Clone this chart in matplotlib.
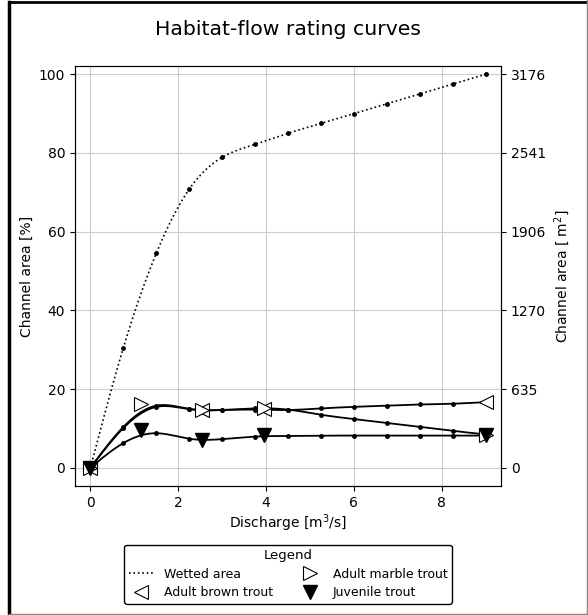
import numpy as np
import matplotlib
matplotlib.use("Agg")
import matplotlib.pyplot as plt
from matplotlib.lines import Line2D

# discharge steps [m3/s]
discharge = [0, 0.75, 1.5, 2.25, 3.0, 3.75, 4.5, 5.25, 6.0, 6.75, 7.5, 8.25, 9.0]

# channel area in % of the total wetted area
wetted = [0, 30.5, 54.5, 70.8, 78.9, 82.2, 85.0, 87.5, 90.0, 92.5, 95.0, 97.5, 100.0]
brown = [0, 10.1, 15.5, 14.9, 14.7, 14.8, 14.7, 15.1, 15.5, 15.8, 16.1, 16.3, 16.7]
marble = [0, 10.4, 15.8, 15.0, 14.7, 15.1, 14.8, 13.5, 12.4, 11.4, 10.4, 9.4, 8.5]
juvenile = [0, 6.3, 8.8, 7.4, 7.3, 7.95, 8.1, 8.2, 8.2, 8.2, 8.2, 8.2, 8.2]

# observed habitat points
brown_obs_q = [0, 2.55, 3.95, 9.0]
brown_obs = [0, 14.7, 15.0, 16.7]
marble_obs_q = [0, 1.15, 2.55, 3.95, 9.0]
marble_obs = [0, 16.2, 14.7, 15.2, 8.4]
juv_obs_q = [0, 1.15, 2.55, 3.95, 9.0]
juv_obs = [0, 9.6, 7.1, 8.4, 8.3]

total_area = 3176.0  # m2


def natural_spline(x, y, xs):
    x = np.asarray(x, float)
    y = np.asarray(y, float)
    n = len(x)
    h = np.diff(x)
    A = np.zeros((n, n))
    b = np.zeros(n)
    A[0, 0] = A[-1, -1] = 1.0
    for i in range(1, n - 1):
        A[i, i - 1] = h[i - 1]
        A[i, i] = 2 * (h[i - 1] + h[i])
        A[i, i + 1] = h[i]
        b[i] = 6 * ((y[i + 1] - y[i]) / h[i] - (y[i] - y[i - 1]) / h[i - 1])
    M = np.linalg.solve(A, b)
    k = np.clip(np.searchsorted(x, xs) - 1, 0, n - 2)
    t0 = x[k + 1] - xs
    t1 = xs - x[k]
    hk = h[k]
    return (M[k] * t0 ** 3 / (6 * hk) + M[k + 1] * t1 ** 3 / (6 * hk)
            + (y[k] / hk - M[k] * hk / 6) * t0
            + (y[k + 1] / hk - M[k + 1] * hk / 6) * t1)


qs = np.linspace(0, 9, 400)

fig = plt.figure(figsize=(5.88, 6.15), dpi=100)
ax = fig.add_axes([0.1276, 0.2098, 0.7245, 0.6829])

ax.plot(qs, natural_spline(discharge, wetted, qs), ':', color='black', lw=1.2,
        label='Wetted area')
ax.plot(discharge, wetted, '.', color='black', ms=5)

for vals in (brown, marble, juvenile):
    ax.plot(qs, natural_spline(discharge, vals, qs), '-', color='black', lw=1.3)
    ax.plot(discharge, vals, '.', color='black', ms=5)

ax.plot(brown_obs_q, brown_obs, '<', ms=10, mfc='white', mec='black', mew=0.8,
        ls='none', label='Adult brown trout', zorder=4)
ax.plot(marble_obs_q, marble_obs, '>', ms=10, mfc='white', mec='black', mew=0.8,
        ls='none', label='Adult marble trout', zorder=4)
ax.plot(juv_obs_q, juv_obs, 'v', ms=10, color='black',
        ls='none', label='Juvenile trout', zorder=5)

ax.set_xlim(-0.35, 9.35)
ax.set_ylim(-4.6, 102.1)
ax.set_yticks([0, 20, 40, 60, 80, 100])
ax.grid(True, color='#cccccc', lw=0.8)
ax.set_axisbelow(True)
ax.set_xlabel('Discharge [m$^3$/s]', labelpad=2)
ax.set_ylabel('Channel area [%]')
ax.set_title('Habitat-flow rating curves', fontsize=14.7, pad=22)

ax2 = ax.twinx()
ax2.set_ylim(ax.get_ylim())
ticks = ax.get_yticks()
ax2.set_yticks(ticks)
ax2.set_yticklabels([str(int(round(t * total_area / 100))) for t in ticks])
ax2.set_ylabel('Channel area [ m$^2$]')

handles, labels = ax.get_legend_handles_labels()
ax.legend(handles, labels, title='Legend', ncol=2, loc='upper center',
          bbox_to_anchor=(0.5, -0.14), edgecolor='black', framealpha=1,
          fontsize=9, title_fontsize=9.5, columnspacing=2.0,
          handletextpad=0.8, borderaxespad=0, borderpad=0.35,
          labelspacing=0.45)

# frame around the figure
fig.add_artist(Line2D([9 / 588, 9 / 588], [0, 1 - 2 / 615], color='black', lw=2.5,
                      transform=fig.transFigure))
fig.add_artist(Line2D([9 / 588, 1], [1 - 2 / 615, 1 - 2 / 615], color='black', lw=2,
                      transform=fig.transFigure))
fig.add_artist(Line2D([1 - 1.5 / 588, 1 - 1.5 / 588], [0, 1], color='#888888', lw=1,
                      transform=fig.transFigure))
fig.add_artist(Line2D([9 / 588, 1], [1.5 / 615, 1.5 / 615], color='#888888', lw=1,
                      transform=fig.transFigure))

fig.savefig('out.png', dpi=100)
